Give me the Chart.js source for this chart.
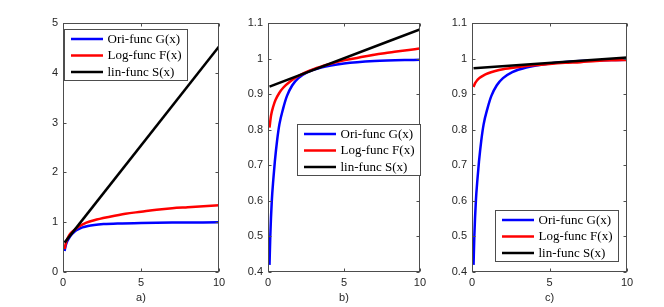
<!DOCTYPE html>
<html>
<head>
<meta charset="utf-8">
<script src="https://cdn.jsdelivr.net/npm/chart.js@4.4.1/dist/chart.umd.min.js"></script>
<style>
  html, body { margin: 0; padding: 0; background: #fff; }
  #fig { position: relative; width: 664px; height: 307px; overflow: hidden; background: #fff; }
  #fig canvas { position: absolute; top: 0; }
</style>
</head>
<body>
<div id="fig">
  <canvas id="pa" width="230" height="307" style="left:0px"></canvas>
  <canvas id="pb" width="210" height="307" style="left:220px"></canvas>
  <canvas id="pc" width="234" height="307" style="left:430px"></canvas>
</div>
<script>
// ===== DATA =====
// original function G(x), same in all three panels
const xG = [0.1, 0.15, 0.25, 0.35, 0.45, 0.6, 0.75, 1, 1.25, 1.6, 2, 2.6, 3.5, 5, 7, 10];
const yG = [0.42, 0.50, 0.60, 0.66, 0.71, 0.77, 0.815, 0.86, 0.895, 0.925, 0.945, 0.962, 0.975, 0.986, 0.993, 0.997];

// log approximations F(x)
const xF  = [0.1, 0.2, 0.35, 0.5, 0.75, 1, 1.5, 2, 3, 4, 5, 6, 7, 8, 9, 10];
const yFa = [0.46, 0.60, 0.71, 0.78, 0.85, 0.91, 0.99, 1.04, 1.11, 1.17, 1.21, 1.25, 1.28, 1.30, 1.32, 1.34];
const yFb = [0.806, 0.84, 0.866, 0.884, 0.904, 0.918, 0.937, 0.951, 0.970, 0.984, 0.995, 1.003, 1.011, 1.017, 1.023, 1.028];
const yFc = [0.92, 0.931, 0.940, 0.946, 0.953, 0.958, 0.965, 0.970, 0.976, 0.981, 0.985, 0.988, 0.990, 0.993, 0.995, 0.996];

// linear functions S(x)
const xS  = [0.1, 10];
const ySa = [0.59, 4.53];
const ySb = [0.921, 1.082];
const ySc = [0.973, 1.003];

const seriesLabels = ['Ori-func G(x)', 'Log-func F(x)', 'lin-func S(x)'];
const panelLabels  = ['a)', 'b)', 'c)'];
const xTicks   = [0, 5, 10];
const yTicksA  = [0, 1, 2, 3, 4, 5];
const yTicksBC = [0.4, 0.5, 0.6, 0.7, 0.8, 0.9, 1, 1.1];

// ===== STYLE =====
const AXIS = '#4d4d4d';
const TEXT = '#262626';
const COLORS = ['#0000ff', '#ff0000', '#000000'];
const TICK_FONT = { family: '"Liberation Sans", Arial, sans-serif', size: 11 };
const LEG_FONT = '13px "Liberation Serif", "Times New Roman", serif';

const pts = (xs, ys) => xs.map((x, i) => ({ x, y: ys[i] }));

// box with inward ticks on all four sides (matlab look)
const boxPlugin = {
  id: 'mBox',
  afterDatasetsDraw(chart) {
    const { ctx, chartArea: a, scales: { x, y } } = chart;
    const L = Math.round(a.left) + 0.5, R = Math.round(a.right) - 0.5;
    const T = Math.round(a.top) + 0.5, B = Math.round(a.bottom) - 0.5;
    const tl = 3;
    ctx.save();
    ctx.strokeStyle = AXIS;
    ctx.lineWidth = 1;
    ctx.strokeRect(L, T, R - L, B - T);
    ctx.beginPath();
    x.ticks.forEach(t => {
      const px = Math.round(x.getPixelForValue(t.value)) + 0.5;
      ctx.moveTo(px, B); ctx.lineTo(px, B - tl);
      ctx.moveTo(px, T); ctx.lineTo(px, T + tl);
    });
    y.ticks.forEach(t => {
      const py = Math.round(y.getPixelForValue(t.value)) + 0.5;
      ctx.moveTo(L, py); ctx.lineTo(L + tl, py);
      ctx.moveTo(R, py); ctx.lineTo(R - tl, py);
    });
    ctx.stroke();
    ctx.restore();
  }
};

// boxed legend placed inside the axes
const legendPlugin = {
  id: 'boxLegend',
  afterDraw(chart, args, opts) {
    const { ctx } = chart;
    const w = 123, h = 51;
    const bx = Math.round(opts.left) + 0.5, by = Math.round(opts.top) + 0.5;
    ctx.save();
    ctx.fillStyle = '#fff';
    ctx.fillRect(bx, by, w, h);
    ctx.strokeStyle = AXIS;
    ctx.lineWidth = 1;
    ctx.strokeRect(bx, by, w, h);
    ctx.font = LEG_FONT;
    ctx.textBaseline = 'middle';
    ctx.fillStyle = '#000';
    chart.data.datasets.forEach((ds, i) => {
      const ry = by + 9.5 + i * 16.5;
      ctx.strokeStyle = ds.borderColor;
      ctx.lineWidth = 2.5;
      ctx.beginPath();
      ctx.moveTo(bx + 6.5, ry);
      ctx.lineTo(bx + 38.5, ry);
      ctx.stroke();
      ctx.fillText(ds.label, bx + 43, ry + 0.5);
    });
    ctx.restore();
  }
};

function makePanel(id, cfg) {
  const datasets = [
    { label: seriesLabels[0], data: pts(xG, yG),     order: 3 },
    { label: seriesLabels[1], data: pts(xF, cfg.yF), order: 2 },
    { label: seriesLabels[2], data: pts(xS, cfg.yS), order: 1 }
  ].map((d, i) => Object.assign(d, {
    borderColor: COLORS[i], borderWidth: 2.5, pointRadius: 0,
    cubicInterpolationMode: 'monotone', fill: false
  }));

  return new Chart(document.getElementById(id), {
    type: 'line',
    data: { datasets },
    plugins: [boxPlugin, legendPlugin],
    options: {
      responsive: false,
      animation: false,
      events: [],
      layout: { padding: { left: 0, right: cfg.padRight, top: 23, bottom: 0 } },
      plugins: {
        legend: { display: false },
        tooltip: { enabled: false },
        boxLegend: cfg.legend
      },
      scales: {
        x: {
          type: 'linear', min: 0, max: 10,
          afterBuildTicks: s => { s.ticks = xTicks.map(v => ({ value: v })); },
          afterFit: s => { s.height = 35; },
          grid: { display: false, drawTicks: false }, border: { display: false },
          ticks: { padding: 4, color: TEXT, font: TICK_FONT, maxRotation: 0, callback: v => String(v) },
          title: { display: true, text: cfg.title, color: TEXT, font: TICK_FONT, padding: { top: 0, bottom: 2 } }
        },
        y: {
          type: 'linear', min: cfg.yMin, max: cfg.yMax,
          afterBuildTicks: s => { s.ticks = cfg.yTicks.map(v => ({ value: v })); },
          afterFit: s => { s.width = cfg.yWidth; },
          grid: { display: false, drawTicks: false }, border: { display: false },
          ticks: { padding: 5, color: TEXT, font: TICK_FONT, callback: v => String(v) }
        }
      }
    }
  });
}

makePanel('pa', { yF: yFa, yS: ySa, yMin: 0, yMax: 5, yTicks: yTicksA, title: panelLabels[0],
  yWidth: 63, padRight: 11, legend: { left: 64, top: 28.5 } });
makePanel('pb', { yF: yFb, yS: ySb, yMin: 0.4, yMax: 1.1, yTicks: yTicksBC, title: panelLabels[1],
  yWidth: 48, padRight: 7, legend: { left: 77, top: 124 } });
makePanel('pc', { yF: yFc, yS: ySc, yMin: 0.4, yMax: 1.1, yTicks: yTicksBC, title: panelLabels[2],
  yWidth: 42, padRight: 37, legend: { left: 64.5, top: 209.5 } });
</script>
</body>
</html>
